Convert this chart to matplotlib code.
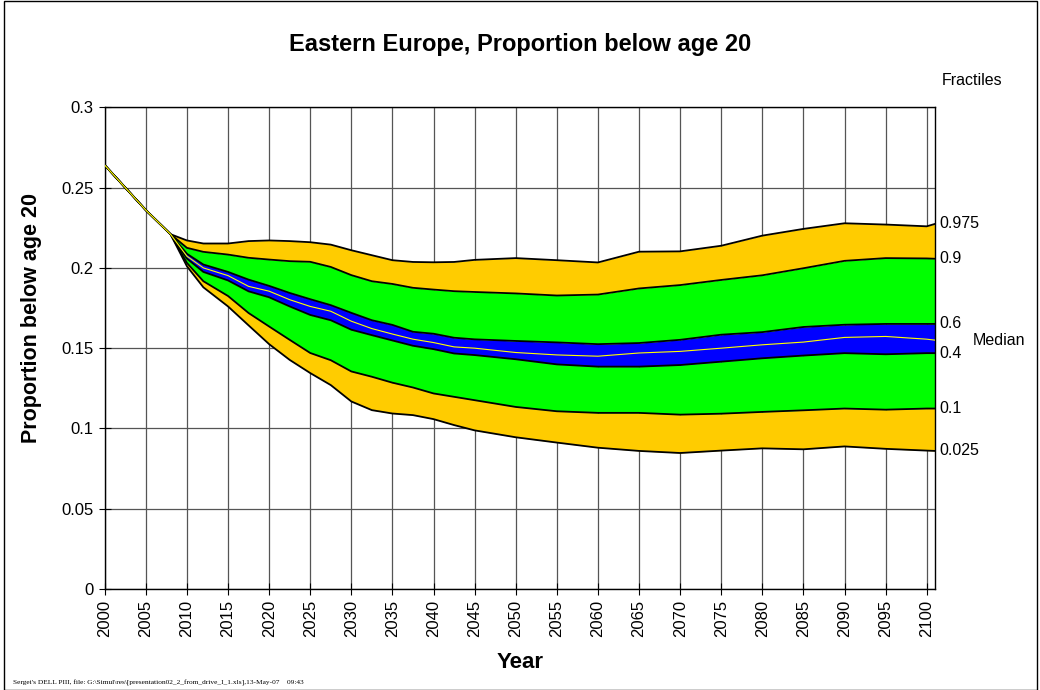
import matplotlib
matplotlib.use("Agg")
import matplotlib.pyplot as plt
from matplotlib.patches import Rectangle

plt.rcParams['font.family'] = ['Liberation Sans', 'DejaVu Sans']

# fractile curves of the proportion below age 20
years = [2000, 2005, 2008, 2010, 2012, 2015, 2017.5, 2020, 2022.5, 2025, 2027.5, 2030,
         2032.5, 2035, 2037.5, 2040, 2042.5, 2045, 2050, 2055, 2060, 2065, 2070, 2075,
         2080, 2085, 2090, 2095, 2100, 2101]
q975 = [0.264, 0.236, 0.221, 0.2171, 0.2152, 0.2152, 0.2167, 0.2171, 0.2167, 0.2160, 0.2145, 0.2110,
        0.2079, 0.2048, 0.2037, 0.2035, 0.2037, 0.2050, 0.2061, 0.2048, 0.2034, 0.2101, 0.2103, 0.2138,
        0.2201, 0.2243, 0.2278, 0.2270, 0.2259, 0.2274]
q90 = [0.264, 0.236, 0.221, 0.2125, 0.2100, 0.2083, 0.2063, 0.2052, 0.2042, 0.2038, 0.2006, 0.1955,
       0.1917, 0.1900, 0.1876, 0.1865, 0.1855, 0.1850, 0.1841, 0.1828, 0.1834, 0.1872, 0.1893, 0.1925,
       0.1954, 0.1998, 0.2044, 0.2061, 0.2059, 0.2057]
q60 = [0.264, 0.236, 0.221, 0.2088, 0.2021, 0.1975, 0.1927, 0.1888, 0.1844, 0.1805, 0.1768, 0.1720,
       0.1674, 0.1645, 0.1602, 0.1590, 0.1565, 0.1555, 0.1545, 0.1536, 0.1525, 0.1532, 0.1552, 0.1584,
       0.1600, 0.1632, 0.1646, 0.1651, 0.1651, 0.1651]
median = [0.264, 0.236, 0.221, 0.2073, 0.2000, 0.1952, 0.1885, 0.1855, 0.1802, 0.1760, 0.1730, 0.1668,
          0.1622, 0.1588, 0.1556, 0.1535, 0.1508, 0.1500, 0.1473, 0.1458, 0.1450, 0.1470, 0.1480, 0.1500,
          0.1521, 0.1538, 0.1567, 0.1573, 0.1556, 0.1550]
q40 = [0.264, 0.236, 0.221, 0.2058, 0.1975, 0.1922, 0.1854, 0.1817, 0.1760, 0.1707, 0.1674, 0.1615,
       0.1581, 0.1548, 0.1515, 0.1494, 0.1467, 0.1457, 0.1431, 0.1399, 0.1385, 0.1385, 0.1395, 0.1416,
       0.1437, 0.1454, 0.1469, 0.1462, 0.1469, 0.1469]
q10 = [0.264, 0.236, 0.221, 0.2031, 0.1917, 0.1825, 0.1719, 0.1635, 0.1552, 0.1470, 0.1425, 0.1355,
       0.1322, 0.1285, 0.1255, 0.1218, 0.1197, 0.1176, 0.1134, 0.1107, 0.1097, 0.1097, 0.1086, 0.1092,
       0.1103, 0.1113, 0.1124, 0.1117, 0.1124, 0.1124]
q025 = [0.264, 0.236, 0.221, 0.2010, 0.1879, 0.1760, 0.1642, 0.1525, 0.1427, 0.1345, 0.1270, 0.1168,
        0.1114, 0.1093, 0.1083, 0.1058, 0.1021, 0.0988, 0.0945, 0.0912, 0.0880, 0.0860, 0.0847, 0.0862,
        0.0876, 0.0870, 0.0888, 0.0873, 0.0862, 0.0860]

frac_labels = ['0.975', '0.9', '0.6', '0.4', '0.1', '0.025']
x_ticks = list(range(2000, 2101, 5))
y_ticks = [0, 0.05, 0.1, 0.15, 0.2, 0.25, 0.3]
y_tick_labels = ['0', '0.05', '0.1', '0.15', '0.2', '0.25', '0.3']

orange = '#FFCC00'
green = '#00FF00'
blue = '#0000FF'

fig = plt.figure(figsize=(10.4, 6.9), dpi=100)
ax = fig.add_axes([0.1007, 0.1464, 0.7983, 0.698])

# bands
ax.fill_between(years, q025, q10, color=orange, lw=0)
ax.fill_between(years, q10, q40, color=green, lw=0)
ax.fill_between(years, q40, q60, color=blue, lw=0)
ax.fill_between(years, q60, q90, color=green, lw=0)
ax.fill_between(years, q90, q975, color=orange, lw=0)

# fractile borders
for q in [q975, q90, q60, q40, q10, q025]:
    ax.plot(years, q, color='black', lw=1.3, zorder=3)
ax.plot(years, median, color='#FFFF00', lw=0.8, zorder=4)

ax.set_xlim(2000, 2101)
ax.set_ylim(0, 0.3)
ax.set_xticks(x_ticks)
ax.set_xticklabels([str(y) for y in x_ticks], rotation=90, fontsize=12)
ax.set_yticks(y_ticks)
ax.set_yticklabels(y_tick_labels, fontsize=12)
ax.tick_params(direction='inout', length=8, width=0.8, pad=4)
ax.grid(True, color='#555555', lw=0.9)
ax.set_axisbelow(True)
for s in ax.spines.values():
    s.set_color('black')
    s.set_linewidth(1.0)

# axis titles placed like the original sheet
fig.text(0.5, 1 - 662 / 690, 'Year', ha='center', va='center', fontsize=16, fontweight='bold')
fig.text(32 / 1040, 1 - 318 / 690, 'Proportion below age 20', ha='center', va='center',
         rotation=90, fontsize=15.5, fontweight='bold')
fig.text(0.5, 0.935, 'Eastern Europe, Proportion below age 20', ha='center', va='center',
         fontsize=17, fontweight='bold')

# right-hand fractile labels at the final values
last = [q975[-1], q90[-1], q60[-1], q40[-1], q10[-1], q025[-1]]
trans = ax.get_yaxis_transform()
for lab, v in zip(frac_labels, last):
    ax.text(1.005, v, lab, transform=trans, ha='left', va='center', fontsize=11.5)
ax.text(1.045, median[-1], 'Median', transform=trans, ha='left', va='center', fontsize=11.5)
fig.text(0.906, 0.884, 'Fractiles', ha='left', va='center', fontsize=11.5)

fig.text(0.0125, 0.01, "Sergei's DELL PIII, file: G:\\Simul\\res\\[presentation02_2_from_drive_I_1.xls],13-May-07    09:43",
         ha='left', va='center', fontsize=5.3, family='Liberation Serif')

fig.patches.append(Rectangle((0.004, 0.0), 0.993, 0.998, transform=fig.transFigure,
                             fill=False, edgecolor='black', lw=1.0))

fig.savefig('out.png', dpi=100)
